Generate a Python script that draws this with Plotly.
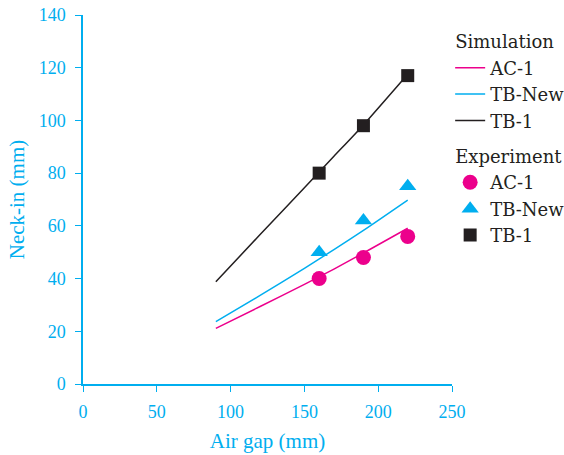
import plotly.graph_objects as go

# Simulated neck-in curves (air gap in mm -> neck-in in mm)
sim_gap = [90, 120, 150, 170, 190, 220]
sim_ac1 = [21.1, 29.4, 37.8, 43.6, 49.7, 59.1]
sim_tbnew = [23.7, 33.6, 43.9, 51.0, 58.3, 69.8]
sim_tb1 = [38.8, 56.7, 74.5, 86.4, 98.3, 117.5]

# Measured neck-in
exp_gap = [160, 190, 220]
exp_ac1 = [40, 48, 56]
exp_tbnew = [50, 62, 75]
exp_tb1 = [80, 98, 117]

CYAN = "#00aeef"
MAGENTA = "#ec008c"
BLACK = "#231f20"
FONT = "Liberation Serif"
LEGEND_FONT = "DejaVu Serif"

fig = go.Figure()

sim_series = [("AC-1", sim_ac1, MAGENTA), ("TB-New", sim_tbnew, CYAN), ("TB-1", sim_tb1, BLACK)]
for name, ys, col in sim_series:
    fig.add_trace(go.Scatter(
        x=sim_gap, y=ys, mode="lines", name=name,
        line=dict(color=col, width=1.5, shape="spline", smoothing=0.6),
        legendgroup="sim", legendgrouptitle=dict(text="Simulation"),
    ))

exp_series = [("AC-1", exp_ac1, MAGENTA, "circle", 15),
              ("TB-New", exp_tbnew, CYAN, "triangle-up", 15),
              ("TB-1", exp_tb1, BLACK, "square", 13)]
for name, ys, col, sym, sz in exp_series:
    fig.add_trace(go.Scatter(
        x=exp_gap, y=ys, mode="markers", name=name,
        marker=dict(color=col, symbol=sym, size=sz, line=dict(width=0)),
        legendgroup="exp", legendgrouptitle=dict(text="Experiment"),
    ))

axis_common = dict(
    showgrid=False, zeroline=False, showline=True, linecolor=CYAN, linewidth=1.5,
    ticks="outside", ticklen=6, tickwidth=1.2, tickcolor=CYAN,
    tickfont=dict(family=FONT, size=18, color=CYAN),
    automargin=False,
)

fig.update_layout(
    width=564, height=455,
    margin=dict(l=83, r=112, t=15, b=71, autoexpand=False),
    paper_bgcolor="white", plot_bgcolor="white",
    font=dict(family=FONT, color=BLACK),
    xaxis=dict(range=[0, 250], tickvals=[0, 50, 100, 150, 200, 250], ticklabelstandoff=5,
               title=dict(text="Air gap (mm)", font=dict(family=FONT, size=21, color=CYAN), standoff=12),
               **axis_common),
    yaxis=dict(range=[0, 140], tickvals=[0, 20, 40, 60, 80, 100, 120, 140], ticklabelstandoff=6,
               title=dict(text="Neck-in (mm)", font=dict(family=FONT, size=21, color=CYAN), standoff=8),
               **axis_common),
    legend=dict(x=0.995, xanchor="left", y=0.978, yanchor="top",
                font=dict(family=LEGEND_FONT, size=18, color=BLACK),
                grouptitlefont=dict(family=LEGEND_FONT, size=18, color=BLACK),
                tracegroupgap=9, bgcolor="rgba(0,0,0,0)", itemwidth=30),
    showlegend=True,
)

fig.write_html("out.html")
